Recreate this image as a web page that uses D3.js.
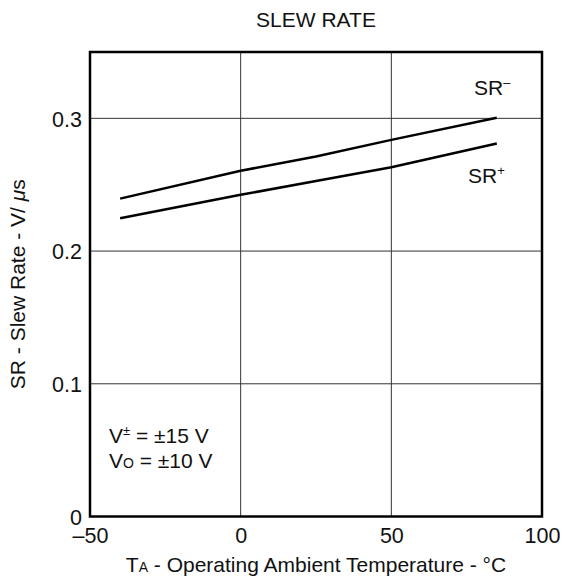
<!DOCTYPE html>
<html>
<head>
<meta charset="utf-8">
<script src="https://cdn.jsdelivr.net/npm/d3@7"></script>
<style>
  html, body { margin: 0; padding: 0; background: #fff; }
  svg { display: block; }
  text { font-family: "Liberation Sans", Arial, Helvetica, sans-serif; fill: #111; }
</style>
</head>
<body>
<svg id="chart" width="564" height="582"></svg>
<script>
// Data
const temperatures = [-40, 0, 25, 50, 85];
const srMinus = [0.2395, 0.2605, 0.2713, 0.2838, 0.3005];
const srPlusTemps = [-40, 0, 25, 50, 85];
const srPlus = [0.2248, 0.2424, 0.2528, 0.2632, 0.281];
const xTicks = [-50, 0, 50, 100];
const xTickLabels = ["\u201350", "0", "50", "100"];
const yTicks = [0, 0.1, 0.2, 0.3];
const yTickLabels = ["0", "0.1", "0.2", "0.3"];

const svg = d3.select("#chart");
const m = { left: 90, right: 542, top: 52, bottom: 516.5 };
const x = d3.scaleLinear().domain([-50, 100]).range([m.left, m.right]);
const y = d3.scaleLinear().domain([0, 0.35]).range([m.bottom, m.top]);
const FS = 21;
const TFS = 21.5;

// grid lines
svg.append("g").selectAll("line").data(xTicks.slice(1, -1)).join("line")
  .attr("x1", d => x(d)).attr("x2", d => x(d))
  .attr("y1", m.top).attr("y2", m.bottom)
  .attr("stroke", "#333").attr("stroke-width", 1);
svg.append("g").selectAll("line").data(yTicks.slice(1)).join("line")
  .attr("x1", m.left).attr("x2", m.right)
  .attr("y1", d => y(d)).attr("y2", d => y(d))
  .attr("stroke", "#333").attr("stroke-width", 1);

// axes (labels only)
const xAxis = d3.axisBottom(x).tickValues(xTicks).tickSize(0).tickPadding(0)
  .tickFormat((d, i) => xTickLabels[i]);
const gx = svg.append("g").attr("transform", `translate(0,${m.bottom})`).call(xAxis);
gx.select(".domain").remove();
gx.selectAll("text").attr("font-size", TFS).attr("dy", null).attr("y", 26.5)
  .attr("font-family", "Liberation Sans, Arial, sans-serif").attr("fill", "#111");

const yAxis = d3.axisLeft(y).tickValues(yTicks).tickSize(0).tickPadding(8)
  .tickFormat((d, i) => yTickLabels[i]);
const gy = svg.append("g").attr("transform", `translate(${m.left},0)`).call(yAxis);
gy.select(".domain").remove();
gy.selectAll("text").attr("font-size", TFS).attr("dy", "0.36em")
  .attr("font-family", "Liberation Sans, Arial, sans-serif").attr("fill", "#111");

// frame
svg.append("rect").attr("x", m.left).attr("y", m.top)
  .attr("width", m.right - m.left).attr("height", m.bottom - m.top)
  .attr("fill", "none").attr("stroke", "#000").attr("stroke-width", 2.5);

// lines
const line = d3.line().x(d => x(d[0])).y(d => y(d[1]));
svg.append("path").datum(temperatures.map((t, i) => [t, srMinus[i]]))
  .attr("d", line).attr("fill", "none").attr("stroke", "#000").attr("stroke-width", 2.5);
svg.append("path").datum(srPlusTemps.map((t, i) => [t, srPlus[i]]))
  .attr("d", line).attr("fill", "none").attr("stroke", "#000").attr("stroke-width", 2.5);

// title
svg.append("text").attr("x", 316).attr("y", 27).attr("text-anchor", "middle")
  .attr("font-size", FS).text("SLEW RATE");

// curve labels
const l1 = svg.append("text").attr("x", 474).attr("y", 95).attr("font-size", FS);
l1.append("tspan").text("SR");
l1.append("tspan").attr("dy", -8).attr("font-size", 13).text("\u2013");
const l2 = svg.append("text").attr("x", 468).attr("y", 183).attr("font-size", FS);
l2.append("tspan").text("SR");
l2.append("tspan").attr("dy", -8).attr("font-size", 13).text("+");

// conditions
const c1 = svg.append("text").attr("x", 109).attr("y", 443).attr("font-size", FS);
c1.append("tspan").text("V");
c1.append("tspan").attr("dy", -8).attr("font-size", 13).text("\u00b1");
c1.append("tspan").attr("dy", 8).text(" = \u00b115 V");
const c2 = svg.append("text").attr("x", 109).attr("y", 468).attr("font-size", FS);
c2.append("tspan").text("V");
c2.append("tspan").attr("font-size", 14).text("O");
c2.append("tspan").text(" = \u00b110 V");

// x axis title
const xt = svg.append("text").attr("x", 316).attr("y", 572).attr("text-anchor", "middle").attr("font-size", FS);
xt.append("tspan").text("T");
xt.append("tspan").attr("font-size", 14).text("A");
xt.append("tspan").text(" - Operating Ambient Temperature - \u00b0C");

// y axis title
const yt = svg.append("text").attr("transform", `translate(25,${(m.top + m.bottom) / 2}) rotate(-90)`)
  .attr("text-anchor", "middle").attr("font-size", FS);
yt.append("tspan").text("SR - Slew Rate - V/ ");
yt.append("tspan").attr("font-style", "italic").text("\u03bc");
yt.append("tspan").text("s");
</script>
</body>
</html>
